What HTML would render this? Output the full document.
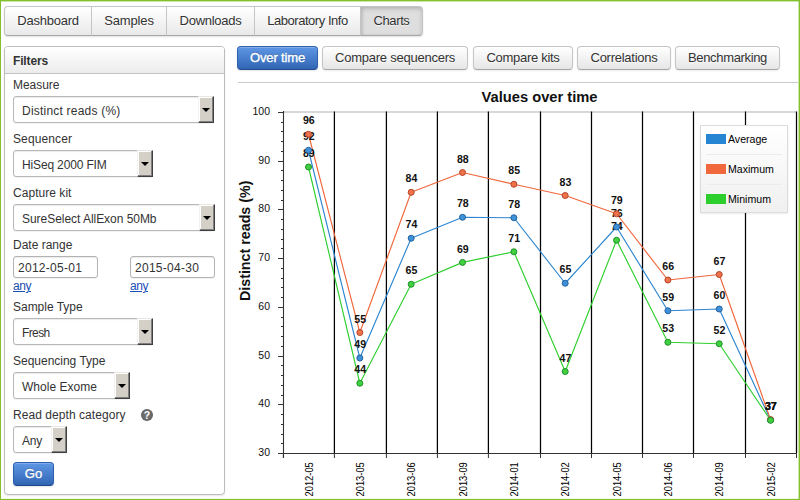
<!DOCTYPE html>
<html><head><meta charset="utf-8"><title>Charts</title>
<style>
*{box-sizing:border-box;margin:0;padding:0}
html,body{width:800px;height:500px;overflow:hidden;background:#fff}
body{font-family:"Liberation Sans",sans-serif;font-size:13px;color:#333;position:relative}
.frame{position:absolute;left:0;top:0;width:800px;height:500px;border:1px solid #82c02d;box-shadow:inset -1px 0 0 rgba(130,192,45,.4),inset 0 1px 0 rgba(130,192,45,.4),inset 0 -1px 0 rgba(130,192,45,.12);z-index:50;pointer-events:none}
.abs{position:absolute}
.tabs{position:absolute;left:4px;top:6px;height:30px;display:flex;border-radius:4px;box-shadow:0 1px 2px rgba(0,0,0,.12)}
.tab{height:30px;line-height:28px;font-size:13px;letter-spacing:-0.25px;color:#333;text-shadow:0 1px 1px rgba(255,255,255,.75);
 border:1px solid #c5c5c5;border-bottom-color:#a6a6a6;margin-left:-1px;text-align:center;
 background:linear-gradient(#ffffff,#e9e9e9)}
.tab:first-child{margin-left:0;border-radius:4px 0 0 4px}
.tab:last-child{border-radius:0 4px 4px 0}
.tab.active{background:#dedede;box-shadow:inset 0 2px 4px rgba(0,0,0,.17),inset 2px 0 3px rgba(0,0,0,.07)}
.btn{position:absolute;top:46px;height:24px;line-height:22px;font-size:13px;letter-spacing:-0.2px;color:#333;text-align:center;
 text-shadow:0 1px 1px rgba(255,255,255,.75);border:1px solid #c5c5c5;border-bottom-color:#a6a6a6;border-radius:4px;
 background:linear-gradient(#ffffff,#e6e6e6);box-shadow:0 1px 2px rgba(0,0,0,.08)}
.btn.primary{color:#fff;-webkit-text-stroke:0.35px #fff;text-shadow:0 -1px 0 rgba(0,0,0,.25);background:linear-gradient(#5e97e5,#3065b4);border-color:#2f61ad #2f61ad #234c8c;box-shadow:inset 0 1px 0 rgba(255,255,255,.22),0 1px 2px rgba(0,0,0,.1)}
.panel{position:absolute;left:4px;top:46px;width:221px;height:449px;border:1px solid #bdbdbd;border-radius:4px;background:#fff;box-shadow:0 1px 2px rgba(0,0,0,.1)}
.phead{position:absolute;left:0;top:0;right:0;height:27px;border-bottom:1px solid #c2c2c2;border-radius:3px 3px 0 0;
 background:linear-gradient(#ffffff,#ececec);font-weight:bold;font-size:12px;line-height:29px;padding-left:8px;color:#333}
.lbl{position:absolute;left:13px;font-size:12px;color:#333;line-height:16px;white-space:nowrap}
.sel{position:absolute;left:13px;height:27px;border:1px solid #b8b8b8;border-radius:3px;background:#fff;font-size:12px;line-height:29px;padding-left:8px;color:#333;white-space:nowrap;
 box-shadow:inset 0 1px 1px rgba(0,0,0,.08),0 1px 0 rgba(0,0,0,.05)}
.dd{position:absolute;right:-1px;top:-1px;width:16px;height:27px;background:#d4d0c8;border:1px solid;border-color:#e8e6e0 #404040 #404040 #f4f2ee;box-shadow:inset -1px -1px 0 #808080,inset 1px 1px 0 #fff}
.dd:after{content:"";position:absolute;left:3px;top:11px;border:4px solid transparent;border-top:4px solid #000;border-bottom:0}
.inp{position:absolute;height:22px;width:85px;border:1px solid #b3b3b3;border-radius:3px;background:#fff;font-size:12px;line-height:23px;padding-left:4px;color:#333;box-shadow:inset 0 1px 1px rgba(0,0,0,.08),0 1px 0 rgba(0,0,0,.05)}
.lnk{position:absolute;font-size:12px;color:#1a4fb5;text-decoration:underline;line-height:16px}
.go{position:absolute;left:13px;top:462px;width:41px;height:24px;border-radius:4px;border:1px solid #2c5fb0;border-bottom-color:#1d4588;color:#fff;font-size:13px;line-height:22px;text-align:center;
 -webkit-text-stroke:0.35px #fff;text-shadow:0 -1px 0 rgba(0,0,0,.25);background:linear-gradient(#5e97e5,#3065b4);box-shadow:inset 0 1px 0 rgba(255,255,255,.22),0 1px 2px rgba(0,0,0,.1)}
.help{position:absolute;left:141px;top:409px;width:12px;height:12px;border-radius:6px;background:radial-gradient(#7a7a7a,#595959);color:#fff;font-size:10.5px;font-weight:bold;line-height:13px;text-align:center}
.cline{position:absolute;left:238px;top:82px;width:560px;height:1px;background:#cbcbcb}
svg.chart{position:absolute;left:0;top:0}
svg text{font-family:"Liberation Sans",sans-serif;fill:#111}
.dl{font-size:10.3px;font-weight:bold;text-anchor:middle}
.yl{font-size:10.5px;text-anchor:end}
.xl{font-size:10px;text-anchor:end;fill:#000}
.ttl{font-size:14px;font-weight:bold;text-anchor:middle}
.ytl{font-size:14.2px;font-weight:bold;text-anchor:middle}
.legend{position:absolute;left:700px;top:125px;width:88px;height:88px;border:1px solid #dcdcdc;background:linear-gradient(#ffffff,#f0f0f0);box-shadow:0 1px 2px rgba(0,0,0,.08)}
.li{position:absolute;left:0;width:86px;height:30px}
.li i{position:absolute;left:5px;top:8px;width:20px;height:10px}
.li span{position:absolute;left:27px;top:6px;font-size:10.6px;line-height:14px;color:#000}
.lsep{position:absolute;left:5px;width:76px;height:1px;background:#ececec}
</style></head><body>
<div class="tabs">
<div class="tab" style="width:88px;letter-spacing:-0.24px">Dashboard</div><div class="tab" style="width:76px;letter-spacing:-0.14px">Samples</div><div class="tab" style="width:89px;letter-spacing:-0.28px">Downloads</div><div class="tab" style="width:107px;letter-spacing:-0.46px">Laboratory Info</div><div class="tab active" style="width:63px;letter-spacing:-0.38px">Charts</div>
</div>
<div class="btn primary" style="left:237px;width:81px;letter-spacing:-0.15px">Over time</div>
<div class="btn" style="left:322px;width:146px;letter-spacing:-0.24px">Compare sequencers</div>
<div class="btn" style="left:473px;width:100px;letter-spacing:-0.30px">Compare kits</div>
<div class="btn" style="left:577px;width:94px;letter-spacing:-0.26px">Correlations</div>
<div class="btn" style="left:675px;width:105px;letter-spacing:-0.34px">Benchmarking</div>

<div class="panel"><div class="phead"><span style="letter-spacing:-0.15px">Filters</span></div></div>
<div class="lbl" style="top:77px"><span style="letter-spacing:-0.03px">Measure</span></div>
<div class="sel" style="top:96px;width:201px"><span style="letter-spacing:0.21px">Distinct reads (%)</span><div class="dd"></div></div>
<div class="lbl" style="top:131px"><span style="letter-spacing:0.11px">Sequencer</span></div>
<div class="sel" style="top:150px;width:140px"><span style="letter-spacing:-0.15px">HiSeq 2000 FIM</span><div class="dd"></div></div>
<div class="lbl" style="top:185px"><span style="letter-spacing:0.04px">Capture kit</span></div>
<div class="sel" style="top:204px;width:202px"><span style="letter-spacing:-0.04px">SureSelect AllExon 50Mb</span><div class="dd"></div></div>
<div class="lbl" style="top:237px"><span style="letter-spacing:0.00px">Date range</span></div>
<div class="inp" style="left:13px;top:256px"><span style="letter-spacing:0.28px">2012-05-01</span></div>
<div class="inp" style="left:130px;top:256px"><span style="letter-spacing:0.28px">2015-04-30</span></div>
<div class="lnk" style="left:13px;top:278px"><span style="letter-spacing:-0.45px">any</span></div>
<div class="lnk" style="left:130px;top:278px"><span style="letter-spacing:-0.45px">any</span></div>
<div class="lbl" style="top:299px"><span style="letter-spacing:-0.02px">Sample Type</span></div>
<div class="sel" style="top:318px;width:140px"><span style="letter-spacing:-0.62px">Fresh</span><div class="dd"></div></div>
<div class="lbl" style="top:353px"><span style="letter-spacing:-0.01px">Sequencing Type</span></div>
<div class="sel" style="top:372px;width:117px"><span style="letter-spacing:0.03px">Whole Exome</span><div class="dd"></div></div>
<div class="lbl" style="top:407px"><span style="letter-spacing:0.06px">Read depth category</span></div>
<div class="help">?</div>
<div class="sel" style="top:426px;width:54px"><span style="letter-spacing:-0.23px">Any</span><div class="dd"></div></div>
<div class="go">Go</div>
<div class="cline"></div>
<svg class="chart" width="800" height="500" viewBox="0 0 800 500">
<rect x="284" y="111" width="512" height="2" fill="#d8d8d8"/>
<line x1="334.4" y1="111.5" x2="334.4" y2="453" stroke="#000" stroke-width="1.25"/>
<line x1="386.4" y1="111.5" x2="386.4" y2="453" stroke="#000" stroke-width="1.25"/>
<line x1="437.4" y1="111.5" x2="437.4" y2="453" stroke="#000" stroke-width="1.25"/>
<line x1="488.4" y1="111.5" x2="488.4" y2="453" stroke="#000" stroke-width="1.25"/>
<line x1="540.5" y1="111.5" x2="540.5" y2="453" stroke="#000" stroke-width="1.25"/>
<line x1="591.5" y1="111.5" x2="591.5" y2="453" stroke="#000" stroke-width="1.25"/>
<line x1="642.5" y1="111.5" x2="642.5" y2="453" stroke="#000" stroke-width="1.25"/>
<line x1="693.5" y1="111.5" x2="693.5" y2="453" stroke="#000" stroke-width="1.25"/>
<line x1="745.5" y1="111.5" x2="745.5" y2="453" stroke="#000" stroke-width="1.25"/>
<line x1="796.5" y1="111.5" x2="796.5" y2="453" stroke="#000" stroke-width="1.25"/>
<polyline points="308.50,150.25 359.84,358.00 411.18,238.25 462.52,217.25 513.86,217.75 565.20,283.25 616.54,227.00 667.88,310.75 719.22,309.00 770.56,420.00" fill="none" stroke="#2e86d0" stroke-width="1.15" stroke-linejoin="round"/>
<polyline points="308.50,134.25 359.84,332.50 411.18,192.30 462.52,172.50 513.86,184.25 565.20,195.50 616.54,213.75 667.88,280.00 719.22,274.50 770.56,419.60" fill="none" stroke="#ef673c" stroke-width="1.15" stroke-linejoin="round"/>
<polyline points="308.50,167.00 359.84,383.25 411.18,284.25 462.52,262.40 513.86,251.75 565.20,371.50 616.54,240.25 667.88,342.25 719.22,343.75 770.56,420.30" fill="none" stroke="#2fcf2f" stroke-width="1.15" stroke-linejoin="round"/>
<text x="308.80" y="140.35" class="dl" textLength="11.8" lengthAdjust="spacingAndGlyphs">92</text><text x="360.14" y="348.10" class="dl" textLength="11.8" lengthAdjust="spacingAndGlyphs">49</text><text x="411.48" y="228.35" class="dl" textLength="11.8" lengthAdjust="spacingAndGlyphs">74</text><text x="462.82" y="207.35" class="dl" textLength="11.8" lengthAdjust="spacingAndGlyphs">78</text><text x="514.16" y="207.85" class="dl" textLength="11.8" lengthAdjust="spacingAndGlyphs">78</text><text x="565.50" y="273.35" class="dl" textLength="11.8" lengthAdjust="spacingAndGlyphs">65</text><text x="616.84" y="217.10" class="dl" textLength="11.8" lengthAdjust="spacingAndGlyphs">76</text><text x="668.18" y="300.85" class="dl" textLength="11.8" lengthAdjust="spacingAndGlyphs">59</text><text x="719.52" y="299.10" class="dl" textLength="11.8" lengthAdjust="spacingAndGlyphs">60</text><text x="770.86" y="410.10" class="dl" textLength="11.8" lengthAdjust="spacingAndGlyphs">37</text>
<text x="308.80" y="124.35" class="dl" textLength="11.8" lengthAdjust="spacingAndGlyphs">96</text><text x="360.14" y="322.60" class="dl" textLength="11.8" lengthAdjust="spacingAndGlyphs">55</text><text x="411.48" y="182.40" class="dl" textLength="11.8" lengthAdjust="spacingAndGlyphs">84</text><text x="462.82" y="162.60" class="dl" textLength="11.8" lengthAdjust="spacingAndGlyphs">88</text><text x="514.16" y="174.35" class="dl" textLength="11.8" lengthAdjust="spacingAndGlyphs">85</text><text x="565.50" y="185.60" class="dl" textLength="11.8" lengthAdjust="spacingAndGlyphs">83</text><text x="616.84" y="203.85" class="dl" textLength="11.8" lengthAdjust="spacingAndGlyphs">79</text><text x="668.18" y="270.10" class="dl" textLength="11.8" lengthAdjust="spacingAndGlyphs">66</text><text x="719.52" y="264.60" class="dl" textLength="11.8" lengthAdjust="spacingAndGlyphs">67</text><text x="770.86" y="409.70" class="dl" textLength="11.8" lengthAdjust="spacingAndGlyphs">37</text>
<text x="308.80" y="157.10" class="dl" textLength="11.8" lengthAdjust="spacingAndGlyphs">89</text><text x="360.14" y="373.35" class="dl" textLength="11.8" lengthAdjust="spacingAndGlyphs">44</text><text x="411.48" y="274.35" class="dl" textLength="11.8" lengthAdjust="spacingAndGlyphs">65</text><text x="462.82" y="252.50" class="dl" textLength="11.8" lengthAdjust="spacingAndGlyphs">69</text><text x="514.16" y="241.85" class="dl" textLength="11.8" lengthAdjust="spacingAndGlyphs">71</text><text x="565.50" y="361.60" class="dl" textLength="11.8" lengthAdjust="spacingAndGlyphs">47</text><text x="616.84" y="230.35" class="dl" textLength="11.8" lengthAdjust="spacingAndGlyphs">74</text><text x="668.18" y="332.35" class="dl" textLength="11.8" lengthAdjust="spacingAndGlyphs">53</text><text x="719.52" y="333.85" class="dl" textLength="11.8" lengthAdjust="spacingAndGlyphs">52</text><text x="770.86" y="410.40" class="dl" textLength="11.8" lengthAdjust="spacingAndGlyphs">37</text>
<circle cx="308.50" cy="150.25" r="3" fill="#3f92da" stroke="#25639f" stroke-width="1"/><circle cx="359.84" cy="358.00" r="3" fill="#3f92da" stroke="#25639f" stroke-width="1"/><circle cx="411.18" cy="238.25" r="3" fill="#3f92da" stroke="#25639f" stroke-width="1"/><circle cx="462.52" cy="217.25" r="3" fill="#3f92da" stroke="#25639f" stroke-width="1"/><circle cx="513.86" cy="217.75" r="3" fill="#3f92da" stroke="#25639f" stroke-width="1"/><circle cx="565.20" cy="283.25" r="3" fill="#3f92da" stroke="#25639f" stroke-width="1"/><circle cx="616.54" cy="227.00" r="3" fill="#3f92da" stroke="#25639f" stroke-width="1"/><circle cx="667.88" cy="310.75" r="3" fill="#3f92da" stroke="#25639f" stroke-width="1"/><circle cx="719.22" cy="309.00" r="3" fill="#3f92da" stroke="#25639f" stroke-width="1"/><circle cx="770.56" cy="420.00" r="3" fill="#3f92da" stroke="#25639f" stroke-width="1"/>
<circle cx="308.50" cy="134.25" r="3" fill="#f0714a" stroke="#b0462a" stroke-width="1"/><circle cx="359.84" cy="332.50" r="3" fill="#f0714a" stroke="#b0462a" stroke-width="1"/><circle cx="411.18" cy="192.30" r="3" fill="#f0714a" stroke="#b0462a" stroke-width="1"/><circle cx="462.52" cy="172.50" r="3" fill="#f0714a" stroke="#b0462a" stroke-width="1"/><circle cx="513.86" cy="184.25" r="3" fill="#f0714a" stroke="#b0462a" stroke-width="1"/><circle cx="565.20" cy="195.50" r="3" fill="#f0714a" stroke="#b0462a" stroke-width="1"/><circle cx="616.54" cy="213.75" r="3" fill="#f0714a" stroke="#b0462a" stroke-width="1"/><circle cx="667.88" cy="280.00" r="3" fill="#f0714a" stroke="#b0462a" stroke-width="1"/><circle cx="719.22" cy="274.50" r="3" fill="#f0714a" stroke="#b0462a" stroke-width="1"/><circle cx="770.56" cy="419.60" r="3" fill="#f0714a" stroke="#b0462a" stroke-width="1"/>
<circle cx="308.50" cy="167.00" r="3" fill="#41d041" stroke="#1f8f27" stroke-width="1"/><circle cx="359.84" cy="383.25" r="3" fill="#41d041" stroke="#1f8f27" stroke-width="1"/><circle cx="411.18" cy="284.25" r="3" fill="#41d041" stroke="#1f8f27" stroke-width="1"/><circle cx="462.52" cy="262.40" r="3" fill="#41d041" stroke="#1f8f27" stroke-width="1"/><circle cx="513.86" cy="251.75" r="3" fill="#41d041" stroke="#1f8f27" stroke-width="1"/><circle cx="565.20" cy="371.50" r="3" fill="#41d041" stroke="#1f8f27" stroke-width="1"/><circle cx="616.54" cy="240.25" r="3" fill="#41d041" stroke="#1f8f27" stroke-width="1"/><circle cx="667.88" cy="342.25" r="3" fill="#41d041" stroke="#1f8f27" stroke-width="1"/><circle cx="719.22" cy="343.75" r="3" fill="#41d041" stroke="#1f8f27" stroke-width="1"/><circle cx="770.56" cy="420.30" r="3" fill="#41d041" stroke="#1f8f27" stroke-width="1"/>
<line x1="283.5" y1="111" x2="283.5" y2="458" stroke="#333" stroke-width="1.1"/>
<line x1="283" y1="453.5" x2="797" y2="453.5" stroke="#333" stroke-width="1.1"/>
<line x1="278" y1="112.5" x2="283" y2="112.5" stroke="#333"/>
<text x="270" y="115.4" class="yl">100</text>
<line x1="281" y1="122.5" x2="283" y2="122.5" stroke="#333"/>
<line x1="281" y1="131.5" x2="283" y2="131.5" stroke="#333"/>
<line x1="281" y1="141.5" x2="283" y2="141.5" stroke="#333"/>
<line x1="281" y1="151.5" x2="283" y2="151.5" stroke="#333"/>
<line x1="278" y1="161.5" x2="283" y2="161.5" stroke="#333"/>
<text x="270" y="164.4" class="yl">90</text>
<line x1="281" y1="170.5" x2="283" y2="170.5" stroke="#333"/>
<line x1="281" y1="180.5" x2="283" y2="180.5" stroke="#333"/>
<line x1="281" y1="190.5" x2="283" y2="190.5" stroke="#333"/>
<line x1="281" y1="200.5" x2="283" y2="200.5" stroke="#333"/>
<line x1="278" y1="209.5" x2="283" y2="209.5" stroke="#333"/>
<text x="270" y="212.4" class="yl">80</text>
<line x1="281" y1="219.5" x2="283" y2="219.5" stroke="#333"/>
<line x1="281" y1="229.5" x2="283" y2="229.5" stroke="#333"/>
<line x1="281" y1="239.5" x2="283" y2="239.5" stroke="#333"/>
<line x1="281" y1="248.5" x2="283" y2="248.5" stroke="#333"/>
<line x1="278" y1="258.5" x2="283" y2="258.5" stroke="#333"/>
<text x="270" y="261.4" class="yl">70</text>
<line x1="281" y1="268.5" x2="283" y2="268.5" stroke="#333"/>
<line x1="281" y1="278.5" x2="283" y2="278.5" stroke="#333"/>
<line x1="281" y1="287.5" x2="283" y2="287.5" stroke="#333"/>
<line x1="281" y1="297.5" x2="283" y2="297.5" stroke="#333"/>
<line x1="278" y1="307.5" x2="283" y2="307.5" stroke="#333"/>
<text x="270" y="310.4" class="yl">60</text>
<line x1="281" y1="317.5" x2="283" y2="317.5" stroke="#333"/>
<line x1="281" y1="326.5" x2="283" y2="326.5" stroke="#333"/>
<line x1="281" y1="336.5" x2="283" y2="336.5" stroke="#333"/>
<line x1="281" y1="346.5" x2="283" y2="346.5" stroke="#333"/>
<line x1="278" y1="356.5" x2="283" y2="356.5" stroke="#333"/>
<text x="270" y="359.4" class="yl">50</text>
<line x1="281" y1="365.5" x2="283" y2="365.5" stroke="#333"/>
<line x1="281" y1="375.5" x2="283" y2="375.5" stroke="#333"/>
<line x1="281" y1="385.5" x2="283" y2="385.5" stroke="#333"/>
<line x1="281" y1="395.5" x2="283" y2="395.5" stroke="#333"/>
<line x1="278" y1="404.5" x2="283" y2="404.5" stroke="#333"/>
<text x="270" y="407.4" class="yl">40</text>
<line x1="281" y1="414.5" x2="283" y2="414.5" stroke="#333"/>
<line x1="281" y1="424.5" x2="283" y2="424.5" stroke="#333"/>
<line x1="281" y1="434.5" x2="283" y2="434.5" stroke="#333"/>
<line x1="281" y1="443.5" x2="283" y2="443.5" stroke="#333"/>
<line x1="278" y1="453.5" x2="283" y2="453.5" stroke="#333"/>
<text x="270" y="456.4" class="yl">30</text>
<line x1="283.4" y1="454" x2="283.4" y2="458" stroke="#333"/>
<line x1="334.4" y1="454" x2="334.4" y2="458" stroke="#333"/>
<line x1="386.4" y1="454" x2="386.4" y2="458" stroke="#333"/>
<line x1="437.4" y1="454" x2="437.4" y2="458" stroke="#333"/>
<line x1="488.4" y1="454" x2="488.4" y2="458" stroke="#333"/>
<line x1="540.5" y1="454" x2="540.5" y2="458" stroke="#333"/>
<line x1="591.5" y1="454" x2="591.5" y2="458" stroke="#333"/>
<line x1="642.5" y1="454" x2="642.5" y2="458" stroke="#333"/>
<line x1="693.5" y1="454" x2="693.5" y2="458" stroke="#333"/>
<line x1="745.5" y1="454" x2="745.5" y2="458" stroke="#333"/>
<line x1="796.5" y1="454" x2="796.5" y2="458" stroke="#333"/>
<text transform="translate(312.50,462.2) rotate(-90)" class="xl" textLength="34.3" lengthAdjust="spacingAndGlyphs">2012-05</text>
<text transform="translate(363.84,462.2) rotate(-90)" class="xl" textLength="34.3" lengthAdjust="spacingAndGlyphs">2013-05</text>
<text transform="translate(415.18,462.2) rotate(-90)" class="xl" textLength="34.3" lengthAdjust="spacingAndGlyphs">2013-06</text>
<text transform="translate(466.52,462.2) rotate(-90)" class="xl" textLength="34.3" lengthAdjust="spacingAndGlyphs">2013-09</text>
<text transform="translate(517.86,462.2) rotate(-90)" class="xl" textLength="34.3" lengthAdjust="spacingAndGlyphs">2014-01</text>
<text transform="translate(569.20,462.2) rotate(-90)" class="xl" textLength="34.3" lengthAdjust="spacingAndGlyphs">2014-02</text>
<text transform="translate(620.54,462.2) rotate(-90)" class="xl" textLength="34.3" lengthAdjust="spacingAndGlyphs">2014-05</text>
<text transform="translate(671.88,462.2) rotate(-90)" class="xl" textLength="34.3" lengthAdjust="spacingAndGlyphs">2014-06</text>
<text transform="translate(723.22,462.2) rotate(-90)" class="xl" textLength="34.3" lengthAdjust="spacingAndGlyphs">2014-09</text>
<text transform="translate(774.56,462.2) rotate(-90)" class="xl" textLength="34.3" lengthAdjust="spacingAndGlyphs">2015-02</text>
<text x="539.5" y="101.8" class="ttl" textLength="116" lengthAdjust="spacingAndGlyphs">Values over time</text>
<text transform="translate(249.7,240.8) rotate(-90)" class="ytl" textLength="120.5" lengthAdjust="spacingAndGlyphs">Distinct reads (%)</text>
</svg>
<div class="legend">
<div class="li" style="top:0"><i style="background:#2585d3"></i><span>Average</span></div>
<div class="lsep" style="top:28px"></div>
<div class="li" style="top:30px"><i style="background:#f0683c"></i><span>Maximum</span></div>
<div class="lsep" style="top:58px"></div>
<div class="li" style="top:60px"><i style="background:#2dcf2d"></i><span>Minimum</span></div>
</div>
<div class="frame"></div>
</body></html>
